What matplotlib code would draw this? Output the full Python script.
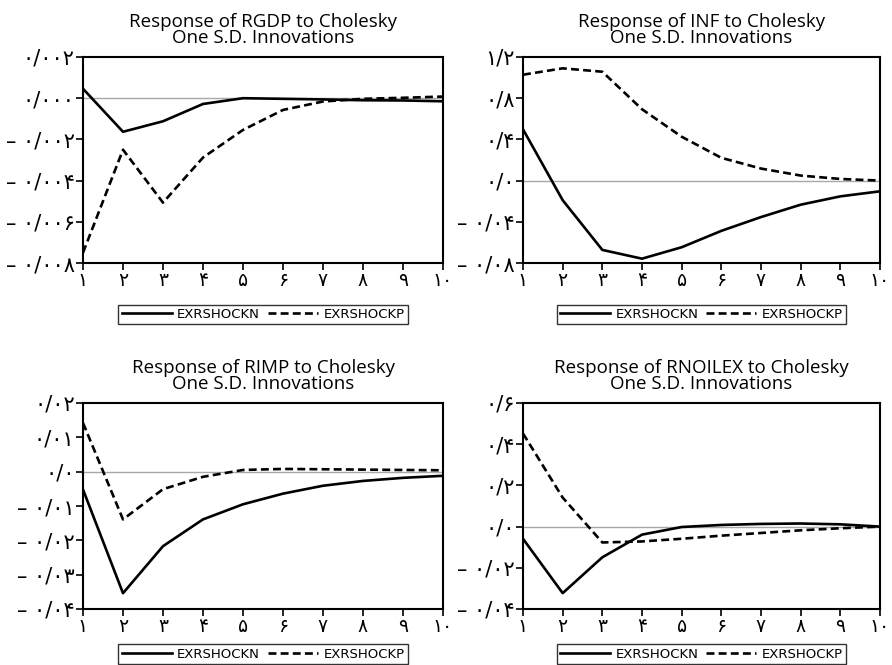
import matplotlib
matplotlib.use('Agg')
import matplotlib.pyplot as plt

periods = [1, 2, 3, 4, 5, 6, 7, 8, 9, 10]
x_labels = ['۱', '۲', '۳', '۴', '۵', '۶', '۷', '۸', '۹', '۱۰']

titles = [
    'Response of RGDP to Cholesky\nOne S.D. Innovations',
    'Response of INF to Cholesky\nOne S.D. Innovations',
    'Response of RIMP to Cholesky\nOne S.D. Innovations',
    'Response of RNOILEX to Cholesky\nOne S.D. Innovations',
]

# responses to EXRSHOCKN (solid) and EXRSHOCKP (dashed)
rgdp_n = [0.00046, -0.00163, -0.00112, -0.00028, 0.0, -0.00003, -0.00006, -0.0001, -0.00011, -0.00015]
rgdp_p = [-0.0075, -0.0025, -0.00507, -0.00288, -0.00154, -0.00057, -0.00016, -0.00003, 0.00002, 0.00008]
inf_n = [0.498, -0.19, -0.673, -0.758, -0.647, -0.488, -0.354, -0.234, -0.153, -0.104]
inf_p = [1.028, 1.09, 1.057, 0.693, 0.426, 0.221, 0.117, 0.049, 0.016, 0.0]
rimp_n = [-0.0052, -0.0354, -0.0217, -0.0139, -0.0095, -0.0064, -0.0041, -0.0027, -0.0018, -0.0012]
rimp_p = [0.0142, -0.0139, -0.0051, -0.0015, 0.0005, 0.0008, 0.0007, 0.0006, 0.0005, 0.0004]
rnoil_n = [-0.059, -0.323, -0.149, -0.039, -0.002, 0.008, 0.013, 0.015, 0.011, 0.0]
rnoil_p = [0.452, 0.141, -0.077, -0.072, -0.059, -0.044, -0.031, -0.018, -0.008, 0.0]

# y ticks and their printed labels (as in the original)
rgdp_ticks = [0.002, 0.0, -0.002, -0.004, -0.006, -0.008]
rgdp_tlabels = ['۰/۰۰۲', '۰/۰۰۰', '– ۰/۰۰۲', '– ۰/۰۰۴', '– ۰/۰۰۶', '– ۰/۰۰۸']
inf_ticks = [1.2, 0.8, 0.4, 0.0, -0.4, -0.8]
inf_tlabels = ['۱/۲', '۰/۸', '۰/۴', '۰/۰', '– ۰/۰۴', '– ۰/۰۸']
rimp_ticks = [0.02, 0.01, 0.0, -0.01, -0.02, -0.03, -0.04]
rimp_tlabels = ['۰/۰۲', '۰/۰۱', '۰/۰', '– ۰/۰۱', '– ۰/۰۲', '– ۰/۰۳', '– ۰/۰۴']
rnoil_ticks = [0.6, 0.4, 0.2, 0.0, -0.2, -0.4]
rnoil_tlabels = ['۰/۶', '۰/۴', '۰/۲', '۰/۰', '– ۰/۰۲', '– ۰/۰۴']

panels = [
    (rgdp_n, rgdp_p, rgdp_ticks, rgdp_tlabels),
    (inf_n, inf_p, inf_ticks, inf_tlabels),
    (rimp_n, rimp_p, rimp_ticks, rimp_tlabels),
    (rnoil_n, rnoil_p, rnoil_ticks, rnoil_tlabels),
]

W, H = 892, 665
fig = plt.figure(figsize=(W / 100, H / 100), dpi=100)

# axes boxes in pixels: left, top, right, bottom
boxes = [(83, 57, 443, 263), (523, 57, 880, 263),
         (83, 403, 443, 609), (523, 403, 880, 609)]
legend_y = [-0.17, -0.17, -0.14, -0.14]

for i, (sn, sp, yt, ytl) in enumerate(panels):
    l, t, r, b = boxes[i]
    ax = fig.add_axes([l / W, 1 - b / H, (r - l) / W, (b - t) / H])
    ax.axhline(0, color='#a8a8a8', lw=1.0, zorder=1)
    ax.plot(periods, sn, color='black', lw=1.9, label='EXRSHOCKN', zorder=3)
    ax.plot(periods, sp, color='black', lw=1.9, ls=(0, (3, 1.6)), label='EXRSHOCKP', zorder=3)
    ax.set_xlim(1, 10)
    ax.set_ylim(yt[-1], yt[0])
    ax.set_yticks(yt)
    ax.set_yticklabels(ytl, family='DejaVu Sans', fontsize=15)
    ax.set_xticks(periods)
    ax.set_xticklabels(x_labels, family='DejaVu Sans', fontsize=13.5)
    for s in ax.spines.values():
        s.set_linewidth(1.5)
    ax.tick_params(direction='out', length=5, width=1.2, pad=1)
    ax.set_title(titles[i], family='Open Sans', fontsize=13.5, linespacing=0.9, pad=10)
    leg = ax.legend(loc='upper center', bbox_to_anchor=(0.5, legend_y[i]), ncol=2,
                    frameon=True, fancybox=False, handlelength=3.8,
                    columnspacing=0.6, handletextpad=0.4, borderpad=0.25,
                    prop={'family': 'DejaVu Sans', 'size': 9.5})
    leg.get_frame().set_edgecolor('black')
    leg.get_frame().set_linewidth(1.0)

fig.savefig('out.png', dpi=100)
